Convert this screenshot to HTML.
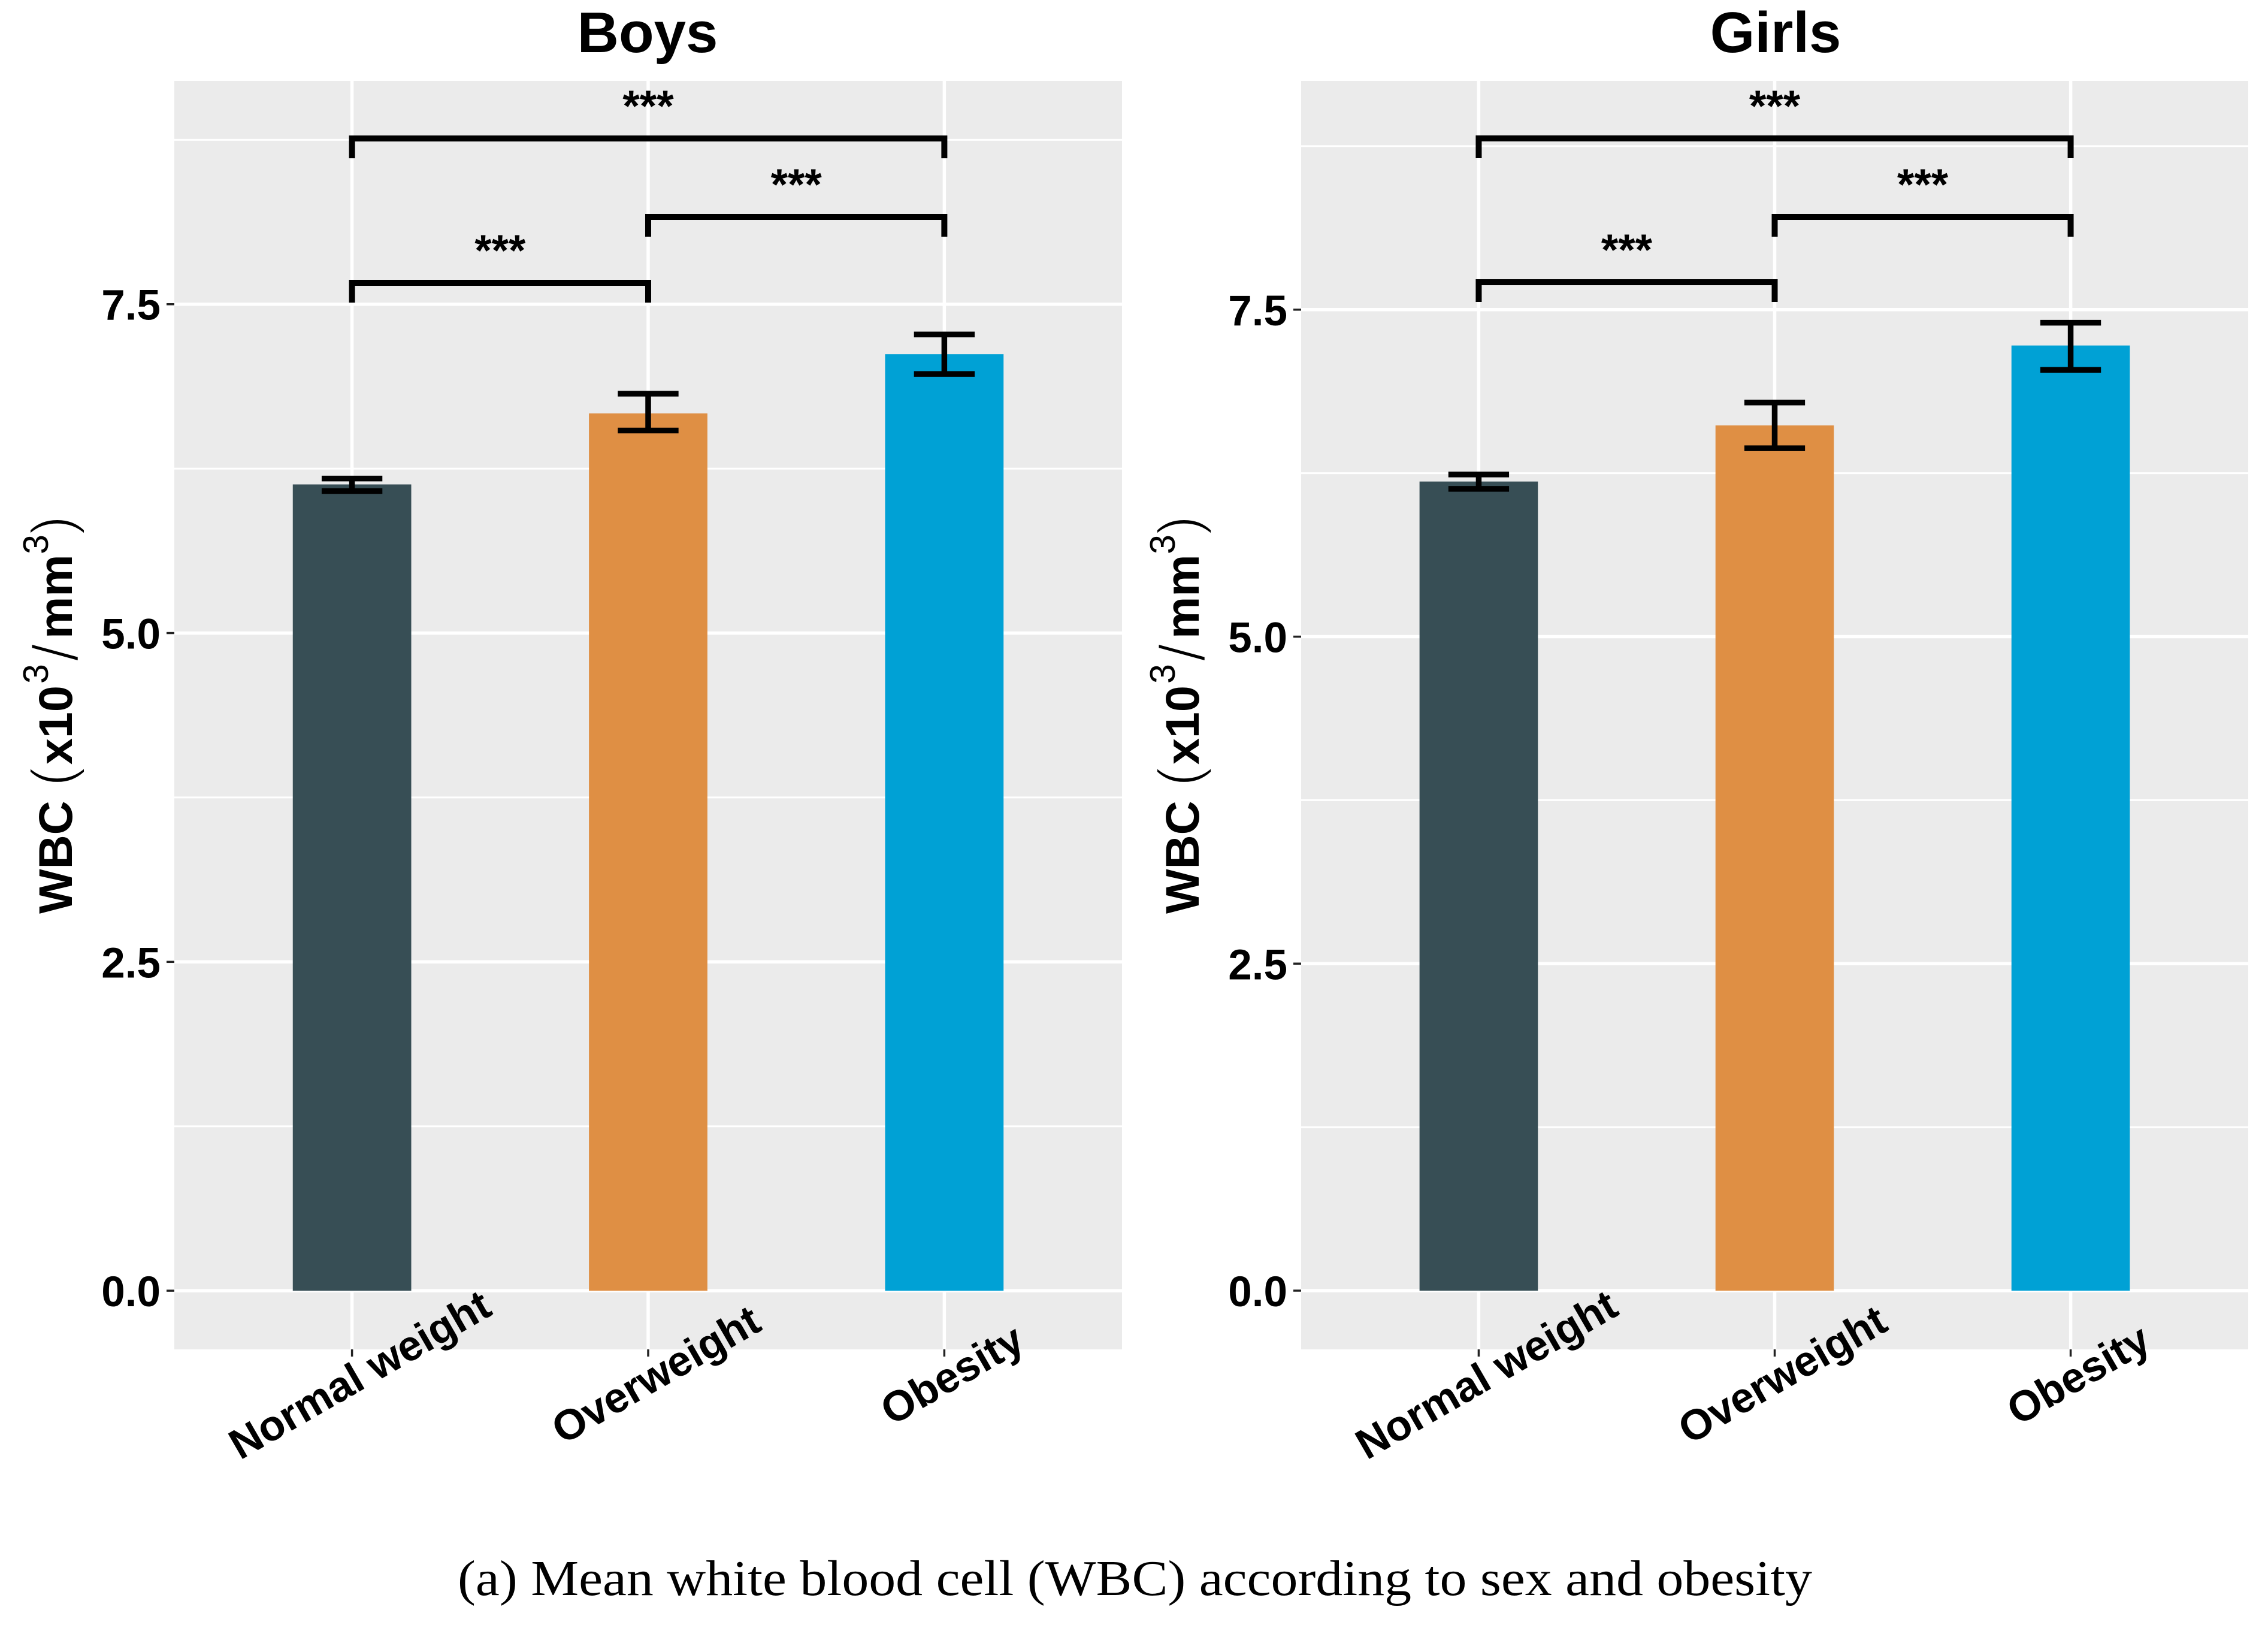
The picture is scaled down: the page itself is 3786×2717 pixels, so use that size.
<!DOCTYPE html>
<html lang="en">
<head>
<meta charset="utf-8">
<title>Mean white blood cell according to sex and obesity</title>
<style>
html,body{margin:0;padding:0;background:#fff;}
body{width:3786px;height:2717px;overflow:hidden;}
svg{display:block;}
text{font-family:"Liberation Sans",sans-serif;fill:#000;}
.b{font-weight:700;}
.thin{stroke:#fff;stroke-width:3px;}
</style>
</head>
<body>
<svg id="chart" xmlns="http://www.w3.org/2000/svg" width="3786" height="2717" viewBox="0 0 3786 2717">
  <rect x="0" y="0" width="3786" height="2717" fill="#ffffff"/>
  <g id="boys-panel"></g>
  <g id="girls-panel"></g>

  <text class="b" x="1081" y="87" font-size="96" text-anchor="middle">Boys</text>
  <text class="b" x="2964" y="87" font-size="96" text-anchor="middle">Girls</text>

  <g>
    <text class="b" font-size="79" transform="translate(120 1525) rotate(-90)">WBC</text>
    <text class="thin" font-size="98" transform="translate(121 1312.5) rotate(-90)">(</text>
    <text class="b" font-size="79" transform="translate(120 1276) rotate(-90)">x10</text>
    <text font-size="59" transform="translate(80 1141) rotate(-90)">3</text>
    <text class="thin" font-size="108" transform="translate(130 1104) rotate(-90)">/</text>
    <text class="b" font-size="79" transform="translate(120 1066) rotate(-90)">mm</text>
    <text font-size="59" transform="translate(80 925) rotate(-90)">3</text>
    <text class="thin" font-size="98" transform="translate(121 893) rotate(-90)">)</text>
  </g>
  <g>
    <text class="b" font-size="79" transform="translate(2001 1525) rotate(-90)">WBC</text>
    <text class="thin" font-size="98" transform="translate(2002 1312.5) rotate(-90)">(</text>
    <text class="b" font-size="79" transform="translate(2001 1276) rotate(-90)">x10</text>
    <text font-size="59" transform="translate(1961 1141) rotate(-90)">3</text>
    <text class="thin" font-size="108" transform="translate(2011 1104) rotate(-90)">/</text>
    <text class="b" font-size="79" transform="translate(2001 1066) rotate(-90)">mm</text>
    <text font-size="59" transform="translate(1961 925) rotate(-90)">3</text>
    <text class="thin" font-size="98" transform="translate(2002 893) rotate(-90)">)</text>
  </g>

  <text x="764" y="2662" font-size="84" textLength="2261" lengthAdjust="spacingAndGlyphs" style="font-family:'Liberation Serif',serif">(a) Mean white blood cell (WBC) according to sex and obesity</text>
</svg>
<script>
// Chart data
const categories = ['Normal weight', 'Overweight', 'Obesity'];
const categoryKeys = ['normal-weight', 'overweight', 'obesity'];
const barColors = ['#374E55', '#DF8F44', '#00A1D5'];
const majorTicks = [0, 2.5, 5, 7.5];
const majorTickLabels = ['0.0', '2.5', '5.0', '7.5'];
const minorTicks = [1.25, 3.75, 6.25, 8.75];

const boysMeans = [6.13, 6.67, 7.12];
const boysLower = [6.08, 6.54, 6.97];
const boysUpper = [6.175, 6.82, 7.27];
const boysBracketLevels = [7.663, 8.164, 8.76];

const girlsMeans = [6.186, 6.615, 7.226];
const girlsLower = [6.13, 6.44, 7.04];
const girlsUpper = [6.24, 6.79, 7.40];
const girlsBracketLevels = [7.71, 8.209, 8.809];

const bracketStarts = [0, 1, 0];
const bracketEnds = [1, 2, 2];
const bracketLabels = ['***', '***', '***'];

const NS = 'http://www.w3.org/2000/svg';

function make(tag, parent, attrs) {
  const el = document.createElementNS(NS, tag);
  for (const k in attrs) el.setAttribute(k, attrs[k]);
  parent.appendChild(el);
  return el;
}

function drawPanel(groupId, prefix, frame, means, lower, upper, levels) {
  const g = document.getElementById(groupId);
  // Discrete x axis: ggplot style with 0.6 expansion on each side.
  const unit = (frame.right - frame.left) / 3.2;
  const xScale = i => frame.left + (i + 0.6) * unit;
  const yScale = v => frame.bottom - (v - frame.yMin) / (frame.yMax - frame.yMin) * (frame.bottom - frame.top);
  const barWidth = unit * 0.4;
  const capWidth = unit * 0.205;

  const bg = make('rect', g, {x: frame.left, y: frame.top, width: frame.right - frame.left, height: frame.bottom - frame.top, fill: '#EBEBEB'});
  
  

  minorTicks.forEach(v => {
    const ln = make('line', g, {x1: frame.left, x2: frame.right, y1: yScale(v), y2: yScale(v), stroke: '#fff', 'stroke-width': 3});
    
    
  });
  majorTicks.forEach((v, i) => {
    const ln = make('line', g, {x1: frame.left, x2: frame.right, y1: yScale(v), y2: yScale(v), stroke: '#fff', 'stroke-width': 5.5});
    
    
    const tick = make('line', g, {x1: frame.left - 13, x2: frame.left, y1: yScale(v), y2: yScale(v), stroke: '#222', 'stroke-width': 3.5});
    
    
    const lab = make('text', g, {x: frame.left - 23, y: yScale(v) + 26, 'font-size': 71, 'text-anchor': 'end', 'font-weight': 700});
    lab.textContent = majorTickLabels[i];
    
    
  });
  categories.forEach((c, i) => {
    const ln = make('line', g, {x1: xScale(i), x2: xScale(i), y1: frame.top, y2: frame.bottom, stroke: '#fff', 'stroke-width': 5.5});
    
    
  });

  categories.forEach((c, i) => {
    const bar = make('rect', g, {x: xScale(i) - barWidth / 2, y: yScale(means[i]), width: barWidth, height: yScale(0) - yScale(means[i]), fill: barColors[i]});
    
    

    const err = make('g', g, {stroke: '#000', 'stroke-width': 9.5, fill: 'none'});
    
    
    make('line', err, {x1: xScale(i), x2: xScale(i), y1: yScale(upper[i]), y2: yScale(lower[i])});
    make('line', err, {x1: xScale(i) - capWidth / 2, x2: xScale(i) + capWidth / 2, y1: yScale(upper[i]), y2: yScale(upper[i])});
    make('line', err, {x1: xScale(i) - capWidth / 2, x2: xScale(i) + capWidth / 2, y1: yScale(lower[i]), y2: yScale(lower[i])});

    const tick = make('line', g, {x1: xScale(i), x2: xScale(i), y1: frame.bottom, y2: frame.bottom + 12, stroke: '#222', 'stroke-width': 3.5});
    
    

    const cx = xScale(i) + 25, cy = 2315;
    const lab = make('text', g, {x: 0, y: 0, 'font-size': 71, 'font-weight': 700, 'text-anchor': 'middle', transform: 'translate(' + cx + ' ' + cy + ') rotate(-30)'});
    lab.textContent = c;
    
    
  });

  levels.forEach((lvl, i) => {
    const xa = xScale(bracketStarts[i]), xb = xScale(bracketEnds[i]), y = yScale(lvl);
    const br = make('path', g, {d: 'M' + xa + ' ' + (y + 33) + 'V' + y + 'H' + xb + 'V' + (y + 33), stroke: '#000', 'stroke-width': 10, fill: 'none'});
    
    
    const star = make('text', g, {x: (xa + xb) / 2, y: y - 29, 'font-size': 73, 'text-anchor': 'middle', 'font-weight': 700});
    star.textContent = bracketLabels[i];
    
    
  });
}

drawPanel('boys-panel', 'boys',
  {left: 291, right: 1873, top: 135, bottom: 2252, yMin: -0.446, yMax: 9.198},
  boysMeans, boysLower, boysUpper, boysBracketLevels);
drawPanel('girls-panel', 'girls',
  {left: 2172, right: 3753, top: 135, bottom: 2252, yMin: -0.449, yMax: 9.249},
  girlsMeans, girlsLower, girlsUpper, girlsBracketLevels);
</script>
</body>
</html>
